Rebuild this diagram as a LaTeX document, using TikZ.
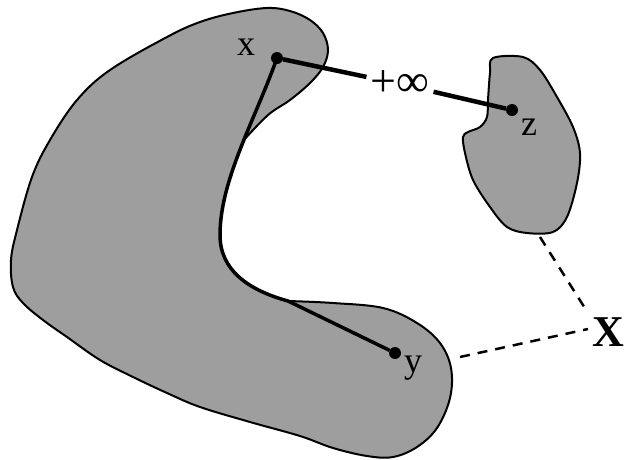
\documentclass[tikz,border=0pt]{standalone}
\usepackage{fontspec}
\setmainfont{Liberation Serif}

\begin{document}
\begin{tikzpicture}[x=1pt, y=-1pt,
  region/.style={fill=black!38, draw=black, line width=2pt},
  pt/.style={circle, fill=black, inner sep=0pt, minimum size=12pt},
  lbl/.style={font=\fontsize{36}{40}\selectfont, inner sep=0pt},
  link/.style={line width=4.5pt},
  gap/.style={dash pattern=on 10pt off 8pt, line width=2.5pt}]
\useasboundingbox (0,0) rectangle (625,459);

\filldraw[region] (243.7,140.2) .. controls (230.6,173) and (220,204.75) .. (220,235)
  .. controls (220,270) and (248,290) .. (288,301)
  -- plot[smooth, tension=0.6] coordinates {(288,301) (333,303) (383,308) (417,323)
     (440,343) (451,368) (450,398) (437,428) (417,447) (393,457) (367,456) (333,448)
     (300,436) (250,422) (200,407) (167,393) (133,377) (100,360) (67,337) (43,320)
     (23,303) (13,287) (11,260) (17,230) (32,177) (50,140) (77,100) (110,70) (167,37)
     (200,22) (233,13) (267,8) (290,11) (310,20) (323,33) (328,50) (323,67) (310,83)
     (290,100) (268,115) (243.7,140.2)} -- cycle;
\filldraw[region] plot[smooth cycle, tension=0.55] coordinates {(493,58) (490,73)
     (488,100) (487,117) (480,127) (468,132) (463,137) (465,153) (473,180) (490,207)
     (507,227) (527,233) (553,232) (567,217) (577,183) (580,153) (573,127) (557,97)
     (540,70) (523,57)};

\node[pt] (xpt) at (277,58) {};
\node[pt] (ypt) at (395,353) {};
\node[pt] (zpt) at (512,110) {};
\node[lbl, anchor=base] (xlbl) at (246,55) {x};
\node[lbl, anchor=base] (ylbl) at (413,372) {y};
\node[lbl, anchor=base] (zlbl) at (529,135) {z};
\node[font=\fontsize{46}{50}\selectfont, inner sep=4pt] (inf) at (400,84) {+∞};
\node[font=\bfseries\fontsize{44}{48}\selectfont, anchor=base west, inner sep=0pt] (Xlbl) at (592,346) {X};

\coordinate (sbfoot) at (540,237);
\coordinate (bbfoot) at (460,357);
\coordinate (cornerA) at (588,313);
\coordinate (cornerB) at (588,329);

\draw[link] (xpt) -- (inf);
\draw[link] (inf) -- (zpt);
\draw[line width=3.5pt] (xpt.center) .. controls (255,120) and (220,180) .. (220,235)
  .. controls (220,270) and (248,290) .. (288,301) -- (ypt);
\draw[gap] (sbfoot) -- (cornerA);
\draw[gap] (bbfoot) -- (cornerB);
\end{tikzpicture}
\end{document}
